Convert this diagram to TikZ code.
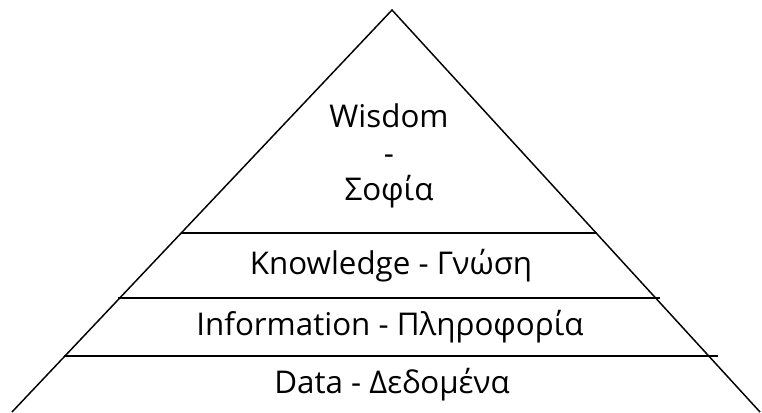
\documentclass[tikz,border=0pt]{standalone}
\usepackage{fontspec}
\setmainfont{Open Sans}
\usepackage{tikz}

\tikzset{
  level/.style={font=\fontsize{23.5}{27.5}\selectfont, align=center},
  side/.style={line width=1.1pt},
  bar/.style={line width=1.5pt}
}

\begin{document}
\begin{tikzpicture}[x=0.75pt, y=-0.75pt]
		\useasboundingbox (0,0) rectangle (762,412);
		% triangle
		\coordinate (top) at (392,10);
		\coordinate (bl) at (12,412);
		\coordinate (br) at (760,412);
		\draw[side] (bl) -- (top) -- (br);
		% layers
		\coordinate (k-l) at (181,233);
		\coordinate (k-r) at (597,233);
		\coordinate (i-l) at (118,298);
		\coordinate (i-r) at (660,298);
		\coordinate (d-l) at (64,356);
		\coordinate (d-r) at (718,356);
		\draw[bar] (k-l) -- (k-r);
		\draw[bar] (i-l) -- (i-r);
		\draw[bar] (d-l) -- (d-r);
		% labels
		\node[level] (wisdom) at (389,156) {Wisdom\\-\\Σοφία};
		\node[level] (knowledge) at (391,266) {Knowledge - Γνώση};
		\node[level] (information) at (390,327) {Information - Πληροφορία};
		\node[level] (data) at (392,385) {Data - Δεδομένα};
	\end{tikzpicture}
\end{document}
